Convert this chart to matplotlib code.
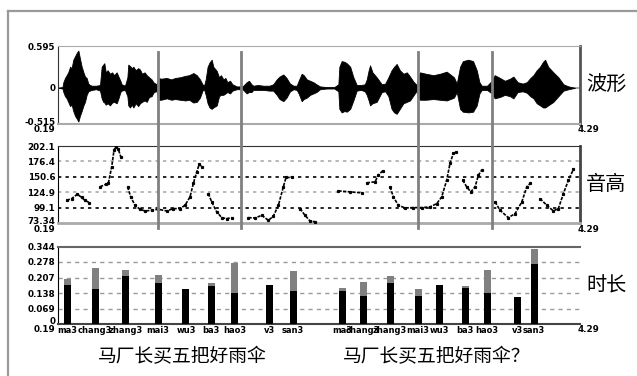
import matplotlib
matplotlib.use("Agg")
import matplotlib.pyplot as plt
import matplotlib.transforms as mtransforms
from matplotlib.lines import Line2D
import numpy as np

# time range of the recording (s)
t_start, t_end = 0.19, 4.29

# waveform envelope
wave_t = [0.19, 0.225, 0.232, 0.245, 0.258, 0.270, 0.285, 0.297, 0.310, 0.324, 0.338, 0.350,
          0.362, 0.376, 0.390, 0.402, 0.415, 0.428, 0.440, 0.455, 0.490, 0.520, 0.533, 0.545,
          0.554, 0.565, 0.580, 0.598, 0.615, 0.630, 0.651, 0.665, 0.680, 0.690, 0.716, 0.735,
          0.742, 0.755, 0.770, 0.782, 0.800, 0.820, 0.834, 0.850, 0.870, 0.887, 0.905, 0.925,
          0.939, 0.955, 0.965, 0.975, 1.000, 1.044, 1.080, 1.110, 1.148, 1.190, 1.220, 1.253,
          1.280, 1.305, 1.325, 1.337, 1.350, 1.365, 1.380, 1.397, 1.410, 1.437, 1.455, 1.470,
          1.489, 1.505, 1.520, 1.541, 1.560, 1.594, 1.640, 1.672, 1.690, 1.710, 1.724, 1.760,
          1.803, 1.850, 1.880, 1.908, 1.930, 1.960, 1.985, 2.012, 2.040, 2.065, 2.080, 2.104,
          2.120, 2.144, 2.170, 2.196, 2.220, 2.248, 2.300, 2.360, 2.392, 2.400, 2.418, 2.440,
          2.458, 2.485, 2.510, 2.536, 2.570, 2.600, 2.615, 2.630, 2.641, 2.660, 2.693, 2.733,
          2.760, 2.785, 2.810, 2.830, 2.850, 2.875, 2.903, 2.930, 2.955, 2.985, 3.008, 3.020,
          3.034, 3.080, 3.138, 3.190, 3.243, 3.300, 3.322, 3.348, 3.370, 3.413, 3.450, 3.479,
          3.500, 3.518, 3.560, 3.597, 3.620, 3.662, 3.700, 3.740, 3.767, 3.800, 3.840, 3.872,
          3.900, 3.924, 3.950, 3.976, 4.000, 4.016, 4.040, 4.081, 4.120, 4.160, 4.200, 4.251]
wave_up = [0, 0.01, 0.08, 0.14, 0.18, 0.22, 0.30, 0.28, 0.40, 0.45, 0.50, 0.53,
           0.42, 0.30, 0.22, 0.16, 0.14, 0.06, 0.04, 0.03, 0.03, 0.04, 0.30, 0.33,
           0.35, 0.22, 0.25, 0.20, 0.22, 0.18, 0.22, 0.16, 0.10, 0.05, 0.03, 0.15,
           0.33, 0.31, 0.28, 0.30, 0.25, 0.28, 0.26, 0.20, 0.22, 0.18, 0.15, 0.12,
           0.08, 0.06, 0.05, 0.14, 0.13, 0.14, 0.12, 0.14, 0.15, 0.17, 0.18, 0.21,
           0.18, 0.12, 0.05, 0.03, 0.12, 0.30, 0.36, 0.40, 0.30, 0.24, 0.15, 0.18,
           0.12, 0.14, 0.08, 0.10, 0.05, 0.02, 0.02, 0.08, 0.10, 0.05, 0.03, 0.04,
           0.03, 0.03, 0.05, 0.12, 0.16, 0.19, 0.14, 0.06, 0.03, 0.03, 0.10, 0.20,
           0.18, 0.12, 0.10, 0.08, 0.05, 0.02, 0.01, 0.01, 0.05, 0.30, 0.38, 0.37,
           0.35, 0.30, 0.15, 0.04, 0.04, 0.05, 0.12, 0.25, 0.32, 0.22, 0.15, 0.05,
           0.06, 0.15, 0.25, 0.30, 0.34, 0.25, 0.20, 0.22, 0.16, 0.08, 0.04, 0.18,
           0.22, 0.20, 0.18, 0.20, 0.23, 0.15, 0.06, 0.30, 0.38, 0.40, 0.38, 0.25,
           0.08, 0.03, 0.03, 0.10, 0.18, 0.14, 0.10, 0.13, 0.16, 0.08, 0.06, 0.08,
           0.14, 0.18, 0.25, 0.30, 0.37, 0.40, 0.30, 0.22, 0.15, 0.05, 0.02, 0.0]
wave_low = [0, -0.01, -0.06, -0.12, -0.15, -0.20, -0.26, -0.24, -0.33, -0.40, -0.44, -0.48,
            -0.40, -0.33, -0.25, -0.20, -0.10, -0.05, -0.04, -0.03, -0.02, -0.04, -0.15, -0.20,
            -0.21, -0.24, -0.22, -0.25, -0.21, -0.20, -0.22, -0.15, -0.06, -0.04, -0.03, -0.12,
            -0.25, -0.28, -0.24, -0.28, -0.22, -0.26, -0.22, -0.20, -0.18, -0.20, -0.13, -0.12,
            -0.07, -0.05, -0.05, -0.17, -0.17, -0.15, -0.17, -0.16, -0.17, -0.18, -0.17, -0.21,
            -0.20, -0.14, -0.04, -0.02, -0.10, -0.22, -0.28, -0.30, -0.28, -0.25, -0.12, -0.10,
            -0.10, -0.08, -0.06, -0.08, -0.04, -0.02, -0.02, -0.08, -0.06, -0.06, -0.03, -0.03,
            -0.03, -0.04, -0.04, -0.10, -0.16, -0.19, -0.14, -0.05, -0.02, -0.03, -0.08, -0.19,
            -0.16, -0.14, -0.10, -0.08, -0.06, -0.02, -0.01, -0.01, -0.05, -0.30, -0.35, -0.33,
            -0.34, -0.30, -0.18, -0.04, -0.03, -0.05, -0.10, -0.18, -0.25, -0.22, -0.20, -0.06,
            -0.05, -0.12, -0.30, -0.35, -0.37, -0.30, -0.22, -0.20, -0.18, -0.10, -0.04, -0.15,
            -0.17, -0.17, -0.16, -0.17, -0.18, -0.14, -0.06, -0.30, -0.34, -0.35, -0.34, -0.25,
            -0.08, -0.03, -0.03, -0.08, -0.15, -0.13, -0.10, -0.12, -0.15, -0.06, -0.05, -0.07,
            -0.12, -0.15, -0.22, -0.25, -0.28, -0.28, -0.25, -0.20, -0.12, -0.04, -0.02, 0.0]

# pitch contour (Hz), nan = break between voiced parts
nan = np.nan
pitch_t = [0.258, 0.297, 0.342, 0.376, 0.402, 0.436, nan,
           0.520, 0.567, 0.585, 0.612, 0.630, 0.646, 0.664, 0.683, nan,
           0.737, 0.761, 0.795, 0.834, 0.873, 0.926, 0.978, 1.044, 1.096, 1.148, 1.188,
           1.227, 1.253, 1.280, 1.300, 1.319, nan,
           1.371, 1.397, 1.437, 1.476, 1.515, 1.554, nan,
           1.685, 1.738, 1.790, 1.842, 1.881, 1.921, 1.960, 1.981, 2.026, nan,
           2.091, 2.130, 2.170, 2.209, nan,
           2.392, 2.484, 2.576, nan,
           2.615, 2.680, 2.706, 2.741, nan,
           2.798, 2.824, 2.863, 2.916, 2.981, 3.047, 3.112, 3.165, 3.204, 3.243, 3.269,
           3.295, 3.316, nan,
           3.369, 3.400, 3.432, 3.466, 3.492, 3.518, nan,
           3.623, 3.662, 3.727, 3.780, 3.833, 3.872, 3.898, nan,
           3.976, 4.029, 4.081, 4.120, 4.160, 4.199, 4.238]
pitch_hz = [111.4, 114.0, 121.5, 116.0, 111.0, 107.5, nan,
            133.8, 138.3, 139.4, 167.4, 195.4, 201.0, 196.5, 184.2, nan,
            133.8, 117.0, 103.0, 96.3, 93.5, 94.6, 96.3, 93.5, 97.4, 97.4, 103.0,
            117.0, 139.4, 159.0, 171.9, 167.4, nan,
            122.6, 108.6, 91.8, 82.3, 80.6, 82.3, nan,
            82.3, 81.7, 86.2, 77.8, 84.5, 103.0, 133.8, 149.5, 149.5, nan,
            97.4, 86.2, 76.5, 75.5, nan,
            127.0, 125.4, 123.7, nan,
            140.5, 142.2, 153.4, 160.7, nan,
            133.8, 117.0, 103.0, 98.5, 99.1, 99.1, 100.2, 105.8, 117.0, 145.0, 173.0,
            189.8, 192.6, nan,
            145.0, 133.8, 125.4, 133.8, 153.4, 161.8, nan,
            108.6, 94.6, 82.3, 89.0, 108.6, 133.8, 139.4, nan,
            114.2, 103.0, 93.5, 97.4, 122.6, 145.0, 162.9]

# syllable durations (s): black = final part, grey = whole syllable
syllables = ["ma3", "chang3", "zhang3", "mai3", "wu3", "ba3", "hao3", "v3", "san3"]
bar_t1 = [0.261, 0.481, 0.724, 0.976, 1.195, 1.392, 1.580, 1.855, 2.036]
bar_t2 = [2.421, 2.586, 2.798, 3.018, 3.183, 3.387, 3.560, 3.803, 3.929]
dur_black1 = [0.176, 0.157, 0.215, 0.181, 0.157, 0.169, 0.139, 0.176, 0.148]
dur_total1 = [0.199, 0.248, 0.243, 0.221, 0.157, 0.185, 0.273, 0.176, 0.237]
dur_black2 = [0.147, 0.125, 0.185, 0.125, 0.176, 0.163, 0.139, 0.122, 0.267]
dur_total2 = [0.163, 0.187, 0.214, 0.157, 0.176, 0.169, 0.243, 0.122, 0.337]

boundaries = [0.976, 1.625, 3.020, 3.597]
wave_ticks = [-0.515, 0, 0.595]
pitch_ticks = [73.34, 99.1, 124.9, 150.6, 176.4, 202.1]
dur_ticks = [0, 0.069, 0.138, 0.207, 0.278, 0.344]

cjk = ["Noto Sans CJK SC", "DejaVu Sans"]
tick_font = dict(fontsize=6.3, fontweight="bold", family="DejaVu Sans")

fig = plt.figure(figsize=(6.37, 3.76), dpi=100)
W, H = 637.0, 376.0


def box(x0, y0, x1, y1):
    return [x0 / W, 1 - y1 / H, (x1 - x0) / W, (y1 - y0) / H]


ax_w = fig.add_axes(box(58, 46, 580, 124))
ax_p = fig.add_axes(box(58, 146, 580, 223))
ax_d = fig.add_axes(box(58, 247, 580, 324))

for ax in (ax_w, ax_p, ax_d):
    ax.set_xlim(t_start, t_end)
    ax.set_xticks([])
    ax.tick_params(axis="y", length=0, pad=2)
    ax.set_facecolor("white")

# waveform
ax_w.axhline(0, color="#aaaaaa", lw=1.5, zorder=1)
ax_w.fill_between(wave_t, wave_low, wave_up, color="black", lw=0.6, zorder=2)
ax_w.set_ylim(-0.515, 0.595)
ax_w.set_yticks(wave_ticks)
ax_w.set_yticklabels(["-0.515", "0", "0.595"], **tick_font)
ax_w.spines["top"].set_color("#aaaaaa")
ax_w.spines["bottom"].set_color("#aaaaaa")
ax_w.spines["bottom"].set_linewidth(1.5)
ax_w.spines["left"].set_color("#333333")
ax_w.spines["right"].set_color("#555555")
ax_w.spines["right"].set_linewidth(2)

# pitch
ax_p.set_ylim(73.34, 202.1)
for v, c in zip([99.1, 124.9, 150.6, 176.4], ["black", "#aaaaaa", "black", "#aaaaaa"]):
    ax_p.axhline(v, color=c, lw=1.2, ls=(0, (2, 2.5)), zorder=1)
ax_p.plot(pitch_t, pitch_hz, color="black", lw=1.2, ls=(0, (2, 0.8)), marker="s", ms=1.3, zorder=3)
ax_p.set_yticks(pitch_ticks)
ax_p.set_yticklabels(["73.34", "99.1", "124.9", "150.6", "176.4", "202.1"], **tick_font)
ax_p.spines["top"].set_color("#333333")
ax_p.spines["right"].set_color("#444444")
ax_p.spines["right"].set_linewidth(2)
ax_p.spines["bottom"].set_color("#aaaaaa")
ax_p.spines["bottom"].set_linewidth(2)

# durations
ax_d.set_ylim(0, 0.344)
for v in dur_ticks[1:-1]:
    ax_d.axhline(v, color="#999999", lw=1, ls=(0, (3, 3)), zorder=1)
bw = 0.055
for bt, blk, tot in ((bar_t1, dur_black1, dur_total1), (bar_t2, dur_black2, dur_total2)):
    ax_d.bar(bt, tot, width=bw, color="#808080", zorder=2)
    ax_d.bar(bt, blk, width=bw, color="black", zorder=3)
ax_d.set_yticks(dur_ticks)
ax_d.set_yticklabels(["0", "0.069", "0.138", "0.207", "0.278", "0.344"], **tick_font)
ax_d.set_xticks(bar_t1 + bar_t2)
ax_d.set_xticklabels(syllables + syllables, fontsize=6.0, fontweight="bold")
ax_d.tick_params(axis="x", length=0, pad=1.5)
ax_d.spines["right"].set_visible(False)
ax_d.spines["top"].set_color("#666666")
ax_d.spines["top"].set_linewidth(1.5)
ax_d.spines["bottom"].set_color("#444444")
ax_d.spines["bottom"].set_linewidth(1.5)

# lift the lowest y label a little so it clears the start time below it
lift = mtransforms.ScaledTranslation(0, 3 / 100, fig.dpi_scale_trans)
for ax in (ax_w, ax_p, ax_d):
    lab = ax.get_yticklabels()[0]
    lab.set_transform(lab.get_transform() + lift)

# start / end time labels under each panel
for ax in (ax_w, ax_p, ax_d):
    h = ax.get_position().height * H
    ax.text(-0.006, -6.0 / h, "0.19", transform=ax.transAxes, ha="right", va="center", **tick_font)
    ax.text(0.995, -6.0 / h, "4.29", transform=ax.transAxes, ha="left", va="center", **tick_font)

# right side titles
ax_w.text(1.012, 0.5, "波形", transform=ax_w.transAxes, ha="left", va="center", fontsize=14.5, family=cjk)
ax_p.text(1.012, 0.5, "音高", transform=ax_p.transAxes, ha="left", va="center", fontsize=14.5, family=cjk)
ax_d.text(1.012, 0.5, "时长", transform=ax_d.transAxes, ha="left", va="center", fontsize=14.5, family=cjk)

# sentence captions
fig.text(182 / W, 1 - 357 / H, "马厂长买五把好雨伞", ha="center", va="center", fontsize=13.5, family=cjk)
fig.text(437 / W, 1 - 357 / H, "马厂长买五把好雨伞？", ha="center", va="center", fontsize=13.5, family=cjk)

# syllable boundary lines through waveform and pitch panels
tr = mtransforms.blended_transform_factory(ax_w.transData, fig.transFigure)
for b in boundaries:
    fig.add_artist(Line2D([b, b], [1 - 52 / H, 1 - 228 / H], transform=tr,
                          color="#808080", lw=2, zorder=5))

# outer grey frame
fig.add_artist(Line2D([7.5 / W, 7.5 / W], [0, 1 - 11 / H], color="#9a9a9a", lw=1.6))
fig.add_artist(Line2D([7.5 / W, 1], [1 - 11 / H, 1 - 11 / H], color="#9a9a9a", lw=1.6))

fig.savefig("out.png", dpi=100)
